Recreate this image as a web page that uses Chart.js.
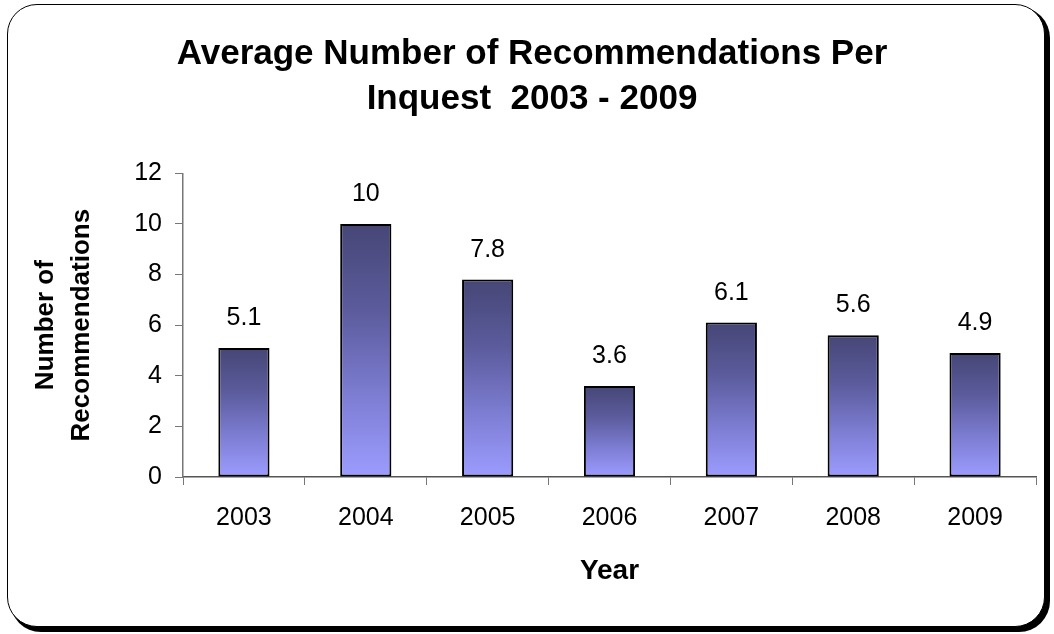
<!DOCTYPE html>
<html lang="en">
<head>
    <meta charset="UTF-8">
    <title>Average Number of Recommendations Per Inquest</title>
    <script src="https://cdn.jsdelivr.net/npm/chart.js"></script>
    <style>
        body { margin: 0; background: #fff; }
        .frame {
            position: absolute; left: 7px; top: 4px;
            width: 1036px; height: 621px;
            border: 1.5px solid #000; border-radius: 30px;
            box-shadow: 4px 4px 0 1px #000;
            background: #fff;
        }
        #chart { position: absolute; left: 0; top: 0; }
    </style>
</head>
<body>
    <div class="frame"></div>
    <canvas id="chart" width="1054" height="634"></canvas>

    <script>
        // data
        const years = ['2003', '2004', '2005', '2006', '2007', '2008', '2009'];
        const avgRecommendations = [5.1, 10, 7.8, 3.6, 6.1, 5.6, 4.9];
        const yMax = 12;
        const yStep = 2;

        const FONT = 'Arial, "Liberation Sans", sans-serif';

        // each bar gets its own dark-top / light-bottom gradient
        function barFill(c) {
            const chart = c.chart;
            if (!chart.chartArea || c.type !== 'data') return '#6c6cb6';
            const ys = chart.scales.y;
            const top = ys.getPixelForValue(c.raw);
            const base = ys.getPixelForValue(0);
            const g = chart.ctx.createLinearGradient(0, top, 0, base);
            g.addColorStop(0, '#464676');
            g.addColorStop(0.35, '#5c5c9e');
            g.addColorStop(0.7, '#7f7fd6');
            g.addColorStop(1, '#9c9cff');
            return g;
        }

        // value labels above the bars
        const valueLabels = {
            id: 'valueLabels',
            afterDatasetsDraw(chart) {
                const ctx = chart.ctx;
                ctx.save();
                ctx.font = '25px ' + FONT;
                ctx.fillStyle = '#000';
                ctx.textAlign = 'center';
                ctx.textBaseline = 'alphabetic';
                chart.getDatasetMeta(0).data.forEach((bar, i) => {
                    ctx.fillText(String(avgRecommendations[i]), bar.x, bar.y - 23);
                });
                ctx.restore();
            }
        };

        new Chart(document.getElementById('chart'), {
            type: 'bar',
            data: {
                labels: years,
                datasets: [{
                    label: 'Average recommendations',
                    data: avgRecommendations,
                    backgroundColor: barFill,
                    borderColor: '#000',
                    borderWidth: 2,
                    borderSkipped: false,
                    barPercentage: 0.42,
                    categoryPercentage: 1
                }]
            },
            options: {
                responsive: false,
                animation: false,
                layout: { padding: { left: 28, right: 18, top: 0, bottom: 40 } },
                plugins: {
                    legend: { display: false },
                    tooltip: { enabled: false },
                    title: {
                        display: true,
                        text: ['Average Number of Recommendations Per', 'Inquest  2003 - 2009'],
                        color: '#000',
                        font: { family: FONT, size: 35, weight: 'bold', lineHeight: 1.29 },
                        padding: { top: 32, bottom: 51 }
                    }
                },
                scales: {
                    x: {
                        grid: { display: true, drawOnChartArea: false, tickLength: 8, color: '#777', offset: true },
                        border: { color: '#555', width: 1.5 },
                        ticks: { color: '#000', padding: 18, maxRotation: 0, font: { family: FONT, size: 25 } },
                        title: {
                            display: true, text: 'Year', color: '#000',
                            font: { family: FONT, size: 28, weight: 'bold' },
                            padding: { top: 0, bottom: 6 }
                        },
                        afterFit(scale) { scale.height = 117; }
                    },
                    y: {
                        min: 0, max: yMax,
                        grid: { display: true, drawOnChartArea: false, tickLength: 8, color: '#777' },
                        border: { color: '#777', width: 1.5 },
                        ticks: { stepSize: yStep, color: '#000', padding: 13, font: { family: FONT, size: 25 } },
                        title: {
                            display: true, text: ['Number of', 'Recommendations'], color: '#000',
                            font: { family: FONT, size: 26, weight: 'bold', lineHeight: 1.38 },
                            padding: { top: 0, bottom: 0 }
                        },
                        afterFit(scale) { scale.width = 155; }
                    }
                }
            },
            plugins: [valueLabels]
        });
    </script>
</body>
</html>
